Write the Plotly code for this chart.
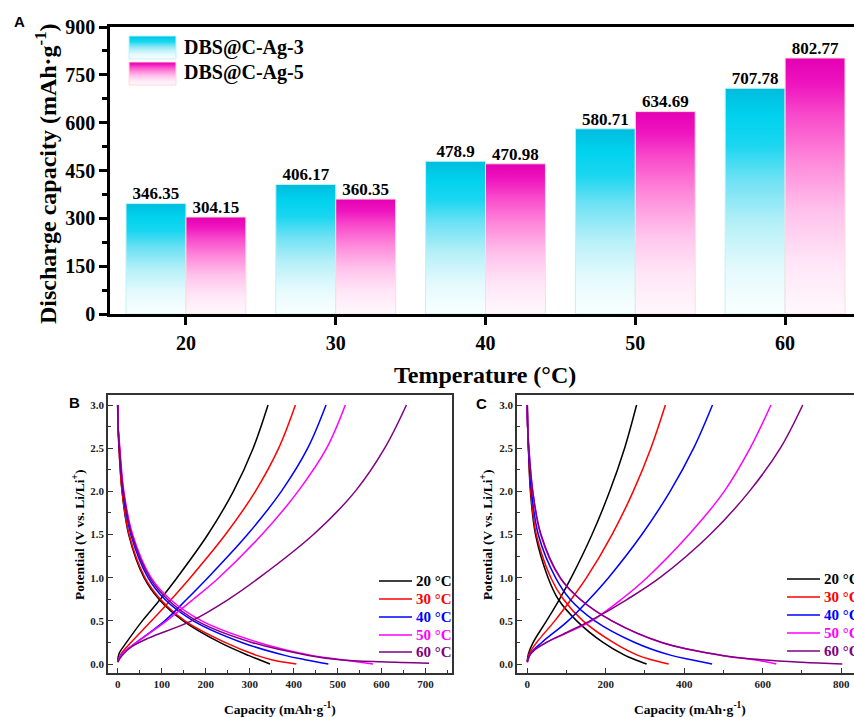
import plotly.graph_objects as go

W, H = 854, 717

# ---------------- data ----------------
temps = [20, 30, 40, 50, 60]
temp_labels = ["20", "30", "40", "50", "60"]
series_names = ["DBS@C-Ag-3", "DBS@C-Ag-5"]
cap_ag3 = [346.35, 406.17, 478.9, 580.71, 707.78]
cap_ag5 = [304.15, 360.35, 470.98, 634.69, 802.77]
yticks_a = [0, 150, 300, 450, 600, 750, 900]

curve_names = ["20 °C", "30 °C", "40 °C", "50 °C", "60 °C"]
curve_colors = ["#000000", "#FF0000", "#0000FF", "#FF00FF", "#800080"]

# discharge profiles (capacity at each potential); last point = discharge capacity
dis_v = [3.0, 2.75, 2.5, 2.0, 1.5, 1.0, 0.75, 0.5, 0.25, 0.1, 0.05, 0.0]
b_dis_v60 = [3.0, 2.75, 2.5, 2.0, 1.5, 1.0, 0.75, 0.5, 0.25, 0.1, 0.05, 0.025, 0.01]
c_dis_v60 = [3.0, 2.75, 2.5, 2.0, 1.5, 1.0, 0.75, 0.5, 0.25, 0.1, 0.05, 0.02, 0.0]

b_dis_20 = [0, 1, 3, 10, 25, 60, 94, 149, 232, 297, 322]
b_dis_30 = [0, 1, 3, 10, 26, 62, 97, 153, 244, 316, 350]
b_dis_40 = [0, 1, 4, 12, 30, 69, 107, 172, 282, 380, 426]
b_dis_50 = [0, 1, 5, 14, 34, 76, 119, 191, 320, 441, 510]
b_dis_60 = [0, 1, 4, 13, 32, 73, 113, 180, 305, 434, 505, 600]

c_dis_20 = [0, 1, 3, 8, 21, 53, 79, 126, 193, 249, 275]
c_dis_30 = [0, 1, 3, 9, 23, 60, 92, 142, 219, 282, 316]
c_dis_40 = [0, 1, 3, 11, 28, 72, 109, 172, 274, 367, 418]
c_dis_50 = [0, 1, 4, 14, 34, 83, 134, 215, 342, 495, 579]
c_dis_60 = [0, 1, 4, 14, 35, 84, 135, 216, 343, 497, 597, 700]

# charge profiles
chg_v = [0.03, 0.12, 0.25, 0.5, 0.75, 1.0, 1.5, 2.0, 2.5, 3.0]
b_chg_v60 = [0.02, 0.1, 0.2, 0.3, 0.5, 0.75, 1.0, 1.5, 2.0, 2.5, 3.0]
c_chg_v_hi = [0.02, 0.1, 0.15, 0.25, 0.35, 0.5, 0.75, 1.0, 1.5, 2.0, 2.5, 3.0]

b_chg_20 = [0, 3, 20, 56, 97, 135, 205, 263, 308, 341.8]
b_chg_30 = [0, 8, 30, 77, 122, 165, 245, 313, 366, 404]
b_chg_40 = [0, 10, 43, 107, 157, 205, 295, 372, 432, 473.6]
b_chg_50 = [0, 10, 43, 111, 172, 230, 328, 410, 475, 517.5]
b_chg_60 = [0, 10, 32, 70, 168, 252, 322, 445, 540, 607, 656.4]

c_chg_20 = [0, 3, 15, 49, 82, 112, 165, 210, 248, 278.6]
c_chg_30 = [0, 5, 24, 70, 112, 151, 216, 270, 315, 352]
c_chg_40 = [0, 8, 37, 104, 158, 207, 292, 364, 424, 472]
c_chg_50 = [0, 6, 15, 49, 96, 164, 240, 305, 412, 502, 568, 621]
c_chg_60 = [0, 6, 15, 49, 93, 160, 255, 338, 466, 566, 645, 702]

# ---------------- helpers ----------------
def fx(px):
    return px / W


def fy(py):
    return 1 - py / H


SERIF = "Liberation Serif"
SANS = "Liberation Sans"
BAR_W = 4

cyan_scale = [[0, "#FAFFFF"], [0.2, "#E4FAFD"], [0.4, "#B6F0F8"], [0.6, "#6CE1F4"],
              [0.75, "#1AD6F0"], [0.88, "#00D2EE"], [1.0, "#00BCDD"]]
pink_scale = [[0, "#FFF8FD"], [0.2, "#FFE6F7"], [0.4, "#FFC2EC"], [0.6, "#FF88DA"],
              [0.78, "#F848CA"], [0.9, "#EE14BE"], [1.0, "#E400B4"]]

fig = go.Figure()

# ---------------- panel A: gradient bars ----------------
for vals, shift, scale, edge in [(cap_ag3, -BAR_W, cyan_scale, "#BFF2F8"),
                                 (cap_ag5, 0, pink_scale, "#FFDCD4")]:
    for t, v in zip(temps, vals):
        x0, x1 = t + shift, t + shift + BAR_W
        fig.add_trace(go.Scatter(
            x=[x0, x0, x1, x1, x0], y=[0, v, v, 0, 0],
            mode="lines", fill="toself",
            fillgradient=dict(type="vertical", colorscale=scale),
            line=dict(color=edge, width=1),
            xaxis="x", yaxis="y", hoverinfo="skip", showlegend=False))
    fig.add_trace(go.Scatter(
        x=[t + shift + BAR_W / 2 for t in temps], y=vals,
        text=[str(v) for v in vals], mode="text", textposition="top center",
        textfont=dict(family=SERIF, size=17, color="#000000", weight="bold"),
        xaxis="x", yaxis="y", hoverinfo="skip", showlegend=False, cliponaxis=False))

# legend swatches for panel A, drawn on a pixel-mapped overlay
for (top, bot), scale, edge in [((36, 59), cyan_scale, "#BFF2F8"), ((62, 85), pink_scale, "#FFDCD4")]:
    xs = [129, 129, 176, 176, 129]
    ys = [H - bot, H - top, H - top, H - bot, H - bot]
    fig.add_trace(go.Scatter(
        x=xs, y=ys, mode="lines", fill="toself",
        fillgradient=dict(type="vertical", colorscale=scale),
        line=dict(color=edge, width=1),
        xaxis="x4", yaxis="y4", hoverinfo="skip", showlegend=False))

# ---------------- panels B & C: charge/discharge curves ----------------
b_dis = [b_dis_20, b_dis_30, b_dis_40, b_dis_50, b_dis_60]
c_dis = [c_dis_20, c_dis_30, c_dis_40, c_dis_50, c_dis_60]
b_chg = [b_chg_20, b_chg_30, b_chg_40, b_chg_50, b_chg_60]
c_chg = [c_chg_20, c_chg_30, c_chg_40, c_chg_50, c_chg_60]
b_dis_vs = [dis_v, dis_v, dis_v, dis_v, b_dis_v60]
c_dis_vs = [dis_v, dis_v, dis_v, dis_v, c_dis_v60]
b_chg_vs = [chg_v, chg_v, chg_v, chg_v, b_chg_v60]
c_chg_vs = [chg_v, chg_v, chg_v, c_chg_v_hi, c_chg_v_hi]

for i in range(5):
    col = curve_colors[i]
    for xa, ya, dis, dv, chg, cv, final in [
        ("x2", "y2", b_dis[i], b_dis_vs[i], b_chg[i], b_chg_vs[i], cap_ag3[i]),
        ("x3", "y3", c_dis[i], c_dis_vs[i], c_chg[i], c_chg_vs[i], cap_ag5[i]),
    ]:
        fig.add_trace(go.Scatter(
            x=dis + [final], y=dv, mode="lines",
            line=dict(color=col, width=1.5, shape="spline", smoothing=1.0),
            xaxis=xa, yaxis=ya, name=curve_names[i], showlegend=False))
        fig.add_trace(go.Scatter(
            x=chg, y=cv, mode="lines",
            line=dict(color=col, width=1.5, shape="spline", smoothing=1.0),
            xaxis=xa, yaxis=ya, name=curve_names[i], showlegend=False))

# ---------------- axes ----------------
bold_serif = lambda s, c="#000000": dict(family=SERIF, size=s, color=c, weight="bold")

layout = dict(
    width=W, height=H, margin=dict(l=0, r=0, t=0, b=0, autoexpand=False),
    paper_bgcolor="white", plot_bgcolor="rgba(0,0,0,0)",
    showlegend=False,
    xaxis=dict(domain=[fx(110), 1.0], range=[14.93, 64.6], tickmode="array",
               tickvals=temps, ticktext=temp_labels, ticks="outside", ticklen=8,
               tickwidth=2.5, tickcolor="#000", showline=True, linewidth=2.5,
               linecolor="#000", mirror=True, showgrid=False, zeroline=False,
               tickfont=bold_serif(20), anchor="y", ticklabelstandoff=1,
               automargin=False),
    yaxis=dict(domain=[fy(314), fy(27)], range=[0, 900], tickmode="array",
               tickvals=yticks_a, ticks="outside", ticklen=8, tickwidth=2.5,
               tickcolor="#000", showline=True, linewidth=2.5, linecolor="#000",
               showgrid=False, zeroline=False, tickfont=bold_serif(20), anchor="x",
               automargin=False,
               minor=dict(tickmode="array", tickvals=[75, 225, 375, 525, 675, 825],
                          ticks="outside", ticklen=5, tickwidth=2.5, tickcolor="#000")),
    xaxis4=dict(domain=[0, 1], range=[0, W], visible=False, fixedrange=True, anchor="y4"),
    yaxis4=dict(domain=[0, 1], range=[0, H], visible=False, fixedrange=True, anchor="x4"),
)

for ax, dom, rng, dt, mdt, mirror_y in [("2", [fx(108), fx(452)], [-22, 760], 100, 50, True),
                                        ("3", [fx(517), 1.0], [-26.2, 832.7], 200, 100, False)]:
    layout["xaxis" + ax] = dict(
        domain=dom, range=rng, tick0=0, dtick=dt, ticks="inside", ticklen=5, tickwidth=1,
        tickcolor="#333", showline=True, linewidth=1.5, linecolor="#333", mirror=True,
        showgrid=False, zeroline=False, tickfont=bold_serif(11, "#222"), anchor="y" + ax,
        automargin=False,
        minor=dict(dtick=mdt, ticks="inside", ticklen=3, tickwidth=1, tickcolor="#333"))
    layout["yaxis" + ax] = dict(
        domain=[fy(673), fy(395)], range=[-0.104, 3.116], tick0=0, dtick=0.5,
        tickformat=".1f", ticks="inside", ticklen=5, tickwidth=1, tickcolor="#333",
        showline=True, linewidth=1.5, linecolor="#333", mirror=mirror_y,
        showgrid=False, zeroline=False, tickfont=bold_serif(11, "#222"), anchor="x" + ax,
        automargin=False,
        minor=dict(dtick=0.25, ticks="inside", ticklen=3, tickwidth=1, tickcolor="#333"))

fig.update_layout(**layout)

# ---------------- text ----------------
ann = []
ann.append(dict(text="Discharge capacity (mAh·g<sup>-1</sup>)", x=fx(46), y=fy(174),
                textangle=-90, font=bold_serif(24)))
ann.append(dict(text="Temperature (°C)", x=fx(485), y=fy(375), font=bold_serif(24)))
for name, yc in zip(series_names, [47, 73]):
    ann.append(dict(text=name, x=fx(182), y=fy(yc), xanchor="left", font=bold_serif(20)))

for x_c, x_t in [(78, 280), (486, 690)]:
    ann.append(dict(text="Potential (V vs. Li/Li<sup>+</sup>)", x=fx(x_c), y=fy(535),
                    textangle=-90, font=bold_serif(13.5)))
    ann.append(dict(text="Capacity (mAh·g<sup>-1</sup>)", x=fx(x_t), y=fy(708),
                    font=bold_serif(13.5)))

for lab, (xc, yc) in zip(["A", "B", "C"], [(19, 22), (74, 402), (482, 403)]):
    ann.append(dict(text=lab, x=fx(xc), y=fy(yc),
                    font=dict(family=SANS, size=15, color="#000", weight="bold")))

shapes = []
for (lx0, lx1, tx), ys in [((379, 412, 414), [581, 599, 617, 635, 652]),
                           ((787, 820, 822), [579, 597, 615, 633, 651])]:
    for i, yc in enumerate(ys):
        shapes.append(dict(type="line", xref="paper", yref="paper",
                           x0=fx(lx0), x1=fx(lx1), y0=fy(yc), y1=fy(yc),
                           line=dict(color=curve_colors[i], width=1.5)))
        ann.append(dict(text=curve_names[i], x=fx(tx), y=fy(yc), xanchor="left",
                        font=bold_serif(15, curve_colors[i])))

for a in ann:
    a.setdefault("xref", "paper")
    a.setdefault("yref", "paper")
    a.setdefault("showarrow", False)
    a.setdefault("xanchor", "center")
    a.setdefault("yanchor", "middle")

fig.update_layout(annotations=ann, shapes=shapes)
fig.write_html("out.html")
